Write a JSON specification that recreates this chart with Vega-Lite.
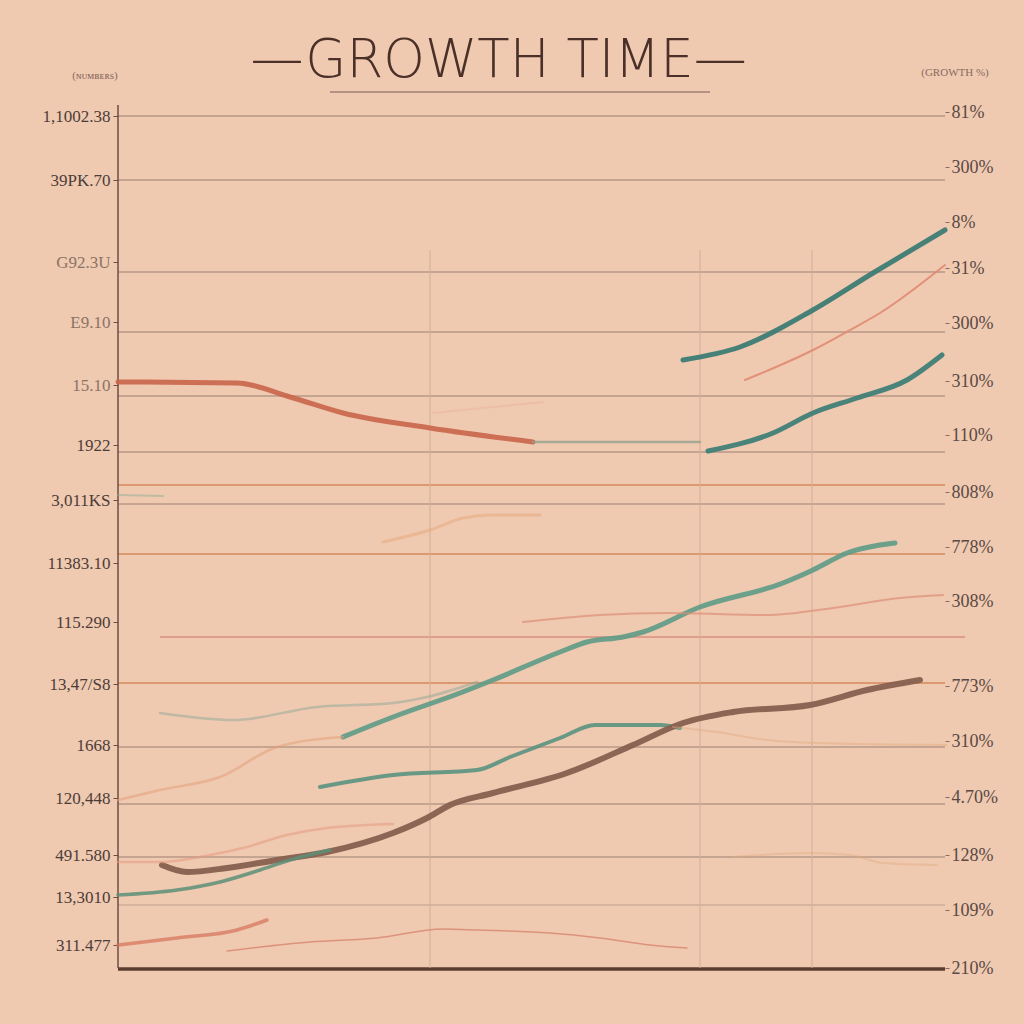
{
  "$schema": "https://vega.github.io/schema/vega-lite/v6.json",
  "autosize": {"type": "none"},
  "padding": {"left": 100, "top": 100, "right": 79, "bottom": 56},
  "width": 845,
  "height": 868,
  "background": "#efc9b0",
  "config": {"view": {"stroke": null}},
  "title": {"text": "—GROWTH TIME—", "font": "DejaVu Sans", "fontWeight": 200, "fontSize": 53, "color": "#4a3028", "anchor": "middle", "frame": "group", "offset": 20, "dx": -24, "dy": 41},
  "datasets": {
    "grid": [
      {"v": 852, "x1": 18, "x2": 845, "kind": "gray"},
      {"v": 788, "x1": 18, "x2": 845, "kind": "gray"},
      {"v": 696, "x1": 18, "x2": 845, "kind": "gray"},
      {"v": 636, "x1": 18, "x2": 845, "kind": "gray"},
      {"v": 572, "x1": 18, "x2": 845, "kind": "gray"},
      {"v": 516, "x1": 18, "x2": 845, "kind": "gray"},
      {"v": 483, "x1": 18, "x2": 845, "kind": "orange"},
      {"v": 464, "x1": 18, "x2": 845, "kind": "gray"},
      {"v": 414, "x1": 18, "x2": 845, "kind": "orange"},
      {"v": 331, "x1": 60, "x2": 865, "kind": "pink"},
      {"v": 285, "x1": 18, "x2": 845, "kind": "orange"},
      {"v": 221, "x1": 18, "x2": 845, "kind": "gray"},
      {"v": 164, "x1": 18, "x2": 845, "kind": "gray"},
      {"v": 111, "x1": 18, "x2": 845, "kind": "gray"},
      {"v": 63, "x1": 18, "x2": 845, "kind": "grayfaint"},
      {"v": -1, "x1": 18, "x2": 845, "kind": "base"},
      {"v": 876, "x1": 230, "x2": 610, "kind": "underline"}
    ],
    "vgrid": [
      {"x": 18, "y1": 0, "y2": 863, "kind": "axis"},
      {"x": 330, "y1": 0, "y2": 718, "kind": "vfaint"},
      {"x": 600, "y1": 0, "y2": 718, "kind": "vfaint"},
      {"x": 712, "y1": 0, "y2": 718, "kind": "vfaint"}
    ],
    "series": [
      {"s": "teal_top", "x": 583, "y": 608}, {"s": "teal_top", "x": 640, "y": 621}, {"s": "teal_top", "x": 713, "y": 658}, {"s": "teal_top", "x": 773, "y": 695}, {"s": "teal_top", "x": 845, "y": 738},
      {"s": "teal_mid", "x": 608, "y": 517}, {"s": "teal_mid", "x": 673, "y": 535}, {"s": "teal_mid", "x": 713, "y": 555}, {"s": "teal_mid", "x": 757, "y": 570}, {"s": "teal_mid", "x": 807, "y": 588}, {"s": "teal_mid", "x": 842, "y": 613},
      {"s": "teal_long", "x": 243, "y": 231}, {"s": "teal_long", "x": 293, "y": 251}, {"s": "teal_long", "x": 360, "y": 275}, {"s": "teal_long", "x": 393, "y": 288}, {"s": "teal_long", "x": 460, "y": 316}, {"s": "teal_long", "x": 487, "y": 326}, {"s": "teal_long", "x": 523, "y": 331}, {"s": "teal_long", "x": 543, "y": 336}, {"s": "teal_long", "x": 600, "y": 361}, {"s": "teal_long", "x": 683, "y": 385}, {"s": "teal_long", "x": 713, "y": 398}, {"s": "teal_long", "x": 747, "y": 415}, {"s": "teal_long", "x": 795, "y": 425},
      {"s": "teal_low", "x": 220, "y": 181}, {"s": "teal_low", "x": 293, "y": 193}, {"s": "teal_low", "x": 377, "y": 198}, {"s": "teal_low", "x": 410, "y": 211}, {"s": "teal_low", "x": 460, "y": 230}, {"s": "teal_low", "x": 495, "y": 243}, {"s": "teal_low", "x": 560, "y": 243}, {"s": "teal_low", "x": 580, "y": 240},
      {"s": "brown", "x": 62, "y": 103}, {"s": "brown", "x": 87, "y": 96}, {"s": "brown", "x": 127, "y": 100}, {"s": "brown", "x": 177, "y": 108}, {"s": "brown", "x": 227, "y": 116}, {"s": "brown", "x": 293, "y": 135}, {"s": "brown", "x": 327, "y": 150}, {"s": "brown", "x": 350, "y": 163}, {"s": "brown", "x": 393, "y": 175}, {"s": "brown", "x": 467, "y": 195}, {"s": "brown", "x": 533, "y": 223}, {"s": "brown", "x": 583, "y": 245}, {"s": "brown", "x": 633, "y": 256}, {"s": "brown", "x": 710, "y": 263}, {"s": "brown", "x": 767, "y": 278}, {"s": "brown", "x": 820, "y": 288},
      {"s": "red_upper", "x": 18, "y": 586}, {"s": "red_upper", "x": 137, "y": 585}, {"s": "red_upper", "x": 190, "y": 571}, {"s": "red_upper", "x": 243, "y": 555}, {"s": "red_upper", "x": 330, "y": 540}, {"s": "red_upper", "x": 433, "y": 526},
      {"s": "salmon_top", "x": 645, "y": 588}, {"s": "salmon_top", "x": 713, "y": 618}, {"s": "salmon_top", "x": 750, "y": 638}, {"s": "salmon_top", "x": 780, "y": 655}, {"s": "salmon_top", "x": 845, "y": 703},
      {"s": "gray_flat", "x": 433, "y": 526}, {"s": "gray_flat", "x": 600, "y": 526},
      {"s": "salmon_left", "x": 18, "y": 168}, {"s": "salmon_left", "x": 60, "y": 178}, {"s": "salmon_left", "x": 120, "y": 191}, {"s": "salmon_left", "x": 177, "y": 221}, {"s": "salmon_left", "x": 243, "y": 231},
      {"s": "tealgray", "x": 60, "y": 255}, {"s": "tealgray", "x": 133, "y": 248}, {"s": "tealgray", "x": 217, "y": 261}, {"s": "tealgray", "x": 293, "y": 265}, {"s": "tealgray", "x": 327, "y": 271}, {"s": "tealgray", "x": 377, "y": 286},
      {"s": "salmon_mid", "x": 423, "y": 346}, {"s": "salmon_mid", "x": 500, "y": 353}, {"s": "salmon_mid", "x": 567, "y": 355}, {"s": "salmon_mid", "x": 667, "y": 353}, {"s": "salmon_mid", "x": 733, "y": 360}, {"s": "salmon_mid", "x": 800, "y": 370}, {"s": "salmon_mid", "x": 843, "y": 373},
      {"s": "salmon_lower", "x": 18, "y": 106}, {"s": "salmon_lower", "x": 60, "y": 106}, {"s": "salmon_lower", "x": 110, "y": 113}, {"s": "salmon_lower", "x": 143, "y": 120}, {"s": "salmon_lower", "x": 187, "y": 133}, {"s": "salmon_lower", "x": 227, "y": 140}, {"s": "salmon_lower", "x": 293, "y": 144},
      {"s": "green_lower", "x": 18, "y": 73}, {"s": "green_lower", "x": 77, "y": 78}, {"s": "green_lower", "x": 120, "y": 86}, {"s": "green_lower", "x": 160, "y": 98}, {"s": "green_lower", "x": 190, "y": 108}, {"s": "green_lower", "x": 230, "y": 118},
      {"s": "red_bottom", "x": 18, "y": 23}, {"s": "red_bottom", "x": 77, "y": 30}, {"s": "red_bottom", "x": 137, "y": 38}, {"s": "red_bottom", "x": 167, "y": 48},
      {"s": "salmon_bottom", "x": 127, "y": 17}, {"s": "salmon_bottom", "x": 210, "y": 26}, {"s": "salmon_bottom", "x": 277, "y": 30}, {"s": "salmon_bottom", "x": 343, "y": 39}, {"s": "salmon_bottom", "x": 377, "y": 38}, {"s": "salmon_bottom", "x": 450, "y": 35}, {"s": "salmon_bottom", "x": 500, "y": 30}, {"s": "salmon_bottom", "x": 550, "y": 23}, {"s": "salmon_bottom", "x": 587, "y": 20},
      {"s": "orange_faint", "x": 283, "y": 426}, {"s": "orange_faint", "x": 330, "y": 438}, {"s": "orange_faint", "x": 363, "y": 450}, {"s": "orange_faint", "x": 393, "y": 453}, {"s": "orange_faint", "x": 440, "y": 453},
      {"s": "salmon_faint", "x": 333, "y": 555}, {"s": "salmon_faint", "x": 443, "y": 566},
      {"s": "tan_faint", "x": 573, "y": 241}, {"s": "tan_faint", "x": 617, "y": 236}, {"s": "tan_faint", "x": 667, "y": 228}, {"s": "tan_faint", "x": 717, "y": 225}, {"s": "tan_faint", "x": 847, "y": 223},
      {"s": "orange_faint2", "x": 633, "y": 111}, {"s": "orange_faint2", "x": 710, "y": 115}, {"s": "orange_faint2", "x": 750, "y": 113}, {"s": "orange_faint2", "x": 783, "y": 105}, {"s": "orange_faint2", "x": 837, "y": 103},
      {"s": "green_short", "x": 18, "y": 473}, {"s": "green_short", "x": 63, "y": 472}
    ],
    "notes": [
      {"x": -5, "y": 892, "t": "(ɴᴜᴍʙᴇʀs)"},
      {"x": 855, "y": 895, "t": "(GROWTH %)"}
    ]
  },
  "layer": [
    {
      "data": {"name": "grid"},
      "mark": {"type": "rule"},
      "encoding": {
        "y": {"field": "v", "type": "quantitative", "scale": {"domain": [0, 868], "nice": false, "zero": false},
          "axis": {"orient": "left", "offset": -18, "title": null, "grid": false, "domain": false, "ticks": true, "tickSize": 5, "tickColor": "#6b4e44",
            "values": [852, 788, 706, 646, 583, 523, 468, 405, 346, 284, 223, 170, 113, 71, 23],
            "labelExpr": "['1,1002.38','39PK.70','G92.3U','E9.10','15.10','1922','3,011KS','11383.10','115.290','13,47/S8','1668','120,448','491.580','13,3010','311.477'][indexof([852,788,706,646,583,523,468,405,346,284,223,170,113,71,23], datum.value)]",
            "labelFont": "Liberation Serif", "labelFontSize": 17, "labelPadding": 3,
            "labelColor": {"condition": {"test": "datum.value == 706 || datum.value == 646 || datum.value == 583", "value": "#8a7466"}, "value": "#4d3d38"}}},
        "x": {"field": "x1", "type": "quantitative", "scale": {"domain": [0, 845], "nice": false, "zero": false},
          "axis": {"orient": "bottom", "title": null, "grid": false, "domain": false, "ticks": false, "labelPadding": 10,
            "values": [8, 140, 230, 313, 383, 465, 593, 739, 805],
            "labelExpr": "['1084','2100','7610','7114','1194','1551','2100','2196','2017'][indexof([8,140,230,313,383,465,593,739,805], datum.value)]",
            "labelFont": "Liberation Serif", "labelFontSize": 15, "labelColor": "#6a5a55"}},
        "x2": {"field": "x2"},
        "color": {"field": "kind", "type": "nominal", "legend": null,
          "scale": {"domain": ["gray", "grayfaint", "orange", "pink", "base", "underline"], "range": ["#9c8274", "#c0a08e", "#d4895a", "#d98f7f", "#5b3b30", "#7a5a50"]}},
        "strokeWidth": {"field": "kind", "type": "nominal", "legend": null,
          "scale": {"type": "ordinal", "domain": ["gray", "grayfaint", "orange", "pink", "base", "underline"], "range": [1.1, 1, 1.5, 1.3, 3.5, 1.2]}}
      }
    },
    {
      "data": {"name": "vgrid"},
      "mark": {"type": "rule"},
      "encoding": {
        "x": {"field": "x", "type": "quantitative", "scale": {"domain": [0, 845], "nice": false, "zero": false}, "axis": null},
        "y": {"field": "y1", "type": "quantitative", "scale": {"domain": [0, 868], "nice": false, "zero": false},
          "axis": {"orient": "right", "title": null, "grid": false, "domain": false, "ticks": true, "tickSize": 4, "tickColor": "#8a6a5e",
            "values": [856, 801, 746, 700, 645, 587, 533, 476, 421, 367, 282, 227, 171, 113, 58, 0],
            "labelExpr": "['81%','300%','8%','31%','300%','310%','110%','808%','778%','308%','773%','310%','4.70%','128%','109%','210%'][indexof([856,801,746,700,645,587,533,476,421,367,282,227,171,113,58,0], datum.value)]",
            "labelFont": "Liberation Serif", "labelFontSize": 18, "labelColor": "#5a4a45", "labelPadding": 2}},
        "y2": {"field": "y2"},
        "color": {"field": "kind", "type": "nominal", "legend": null,
          "scale": {"domain": ["axis", "vfaint"], "range": ["#6b4e44", "#d3ae99"]}},
        "strokeWidth": {"field": "kind", "type": "nominal", "legend": null,
          "scale": {"type": "ordinal", "domain": ["axis", "vfaint"], "range": [1.5, 1]}}
      }
    },
    {
      "data": {"name": "series"},
      "mark": {"type": "line", "interpolate": "monotone", "strokeCap": "round"},
      "encoding": {
        "x": {"field": "x", "type": "quantitative", "scale": {"domain": [0, 845], "nice": false, "zero": false}, "axis": null},
        "y": {"field": "y", "type": "quantitative", "scale": {"domain": [0, 868], "nice": false, "zero": false}, "axis": null},
        "color": {"field": "s", "type": "nominal", "legend": null,
          "scale": {"domain": ["teal_top", "teal_mid", "teal_long", "teal_low", "brown", "red_upper", "salmon_top", "gray_flat", "salmon_left", "tealgray", "salmon_mid", "salmon_lower", "green_lower", "red_bottom", "salmon_bottom", "orange_faint", "salmon_faint", "tan_faint", "orange_faint2", "green_short"],
            "range": ["#3d7c74", "#3f7f77", "#5d9b87", "#5a937f", "#87604f", "#c9654a", "#e08a72", "#8fa08e", "#e4a07c", "#8fa898", "#de8e78", "#e49a80", "#5d8f78", "#d6705a", "#d98a72", "#e6a070", "#e8a890", "#e2ab80", "#e2ab80", "#8fae96"]}},
        "strokeWidth": {"field": "s", "type": "nominal", "legend": null,
          "scale": {"type": "ordinal", "domain": ["teal_top", "teal_mid", "teal_long", "teal_low", "brown", "red_upper", "salmon_top", "gray_flat", "salmon_left", "tealgray", "salmon_mid", "salmon_lower", "green_lower", "red_bottom", "salmon_bottom", "orange_faint", "salmon_faint", "tan_faint", "orange_faint2", "green_short"],
            "range": [5, 5, 5, 4, 6, 5, 2, 2.5, 2.5, 2.5, 2, 2.5, 3.5, 3.5, 1.5, 3, 2, 2, 2, 2]}},
        "opacity": {"field": "s", "type": "nominal", "legend": null,
          "scale": {"type": "ordinal", "domain": ["teal_top", "teal_mid", "teal_long", "teal_low", "brown", "red_upper", "salmon_top", "gray_flat", "salmon_left", "tealgray", "salmon_mid", "salmon_lower", "green_lower", "red_bottom", "salmon_bottom", "orange_faint", "salmon_faint", "tan_faint", "orange_faint2", "green_short"],
            "range": [0.95, 0.95, 0.9, 0.9, 0.95, 0.9, 0.9, 0.75, 0.55, 0.5, 0.7, 0.55, 0.85, 0.7, 0.85, 0.4, 0.3, 0.45, 0.4, 0.5]}}
      }
    },
    {
      "data": {"name": "notes"},
      "mark": {"type": "text", "font": "Liberation Serif", "fontSize": 11, "color": "#8a6a60", "align": "center", "baseline": "middle"},
      "encoding": {
        "x": {"field": "x", "type": "quantitative", "scale": {"domain": [0, 845], "nice": false, "zero": false}, "axis": null},
        "y": {"field": "y", "type": "quantitative", "scale": {"domain": [0, 868], "nice": false, "zero": false}, "axis": null},
        "text": {"field": "t"}
      }
    }
  ],
  "resolve": {"axis": {"y": "independent"}, "scale": {"color": "independent", "strokeWidth": "independent", "opacity": "independent"}}
}
